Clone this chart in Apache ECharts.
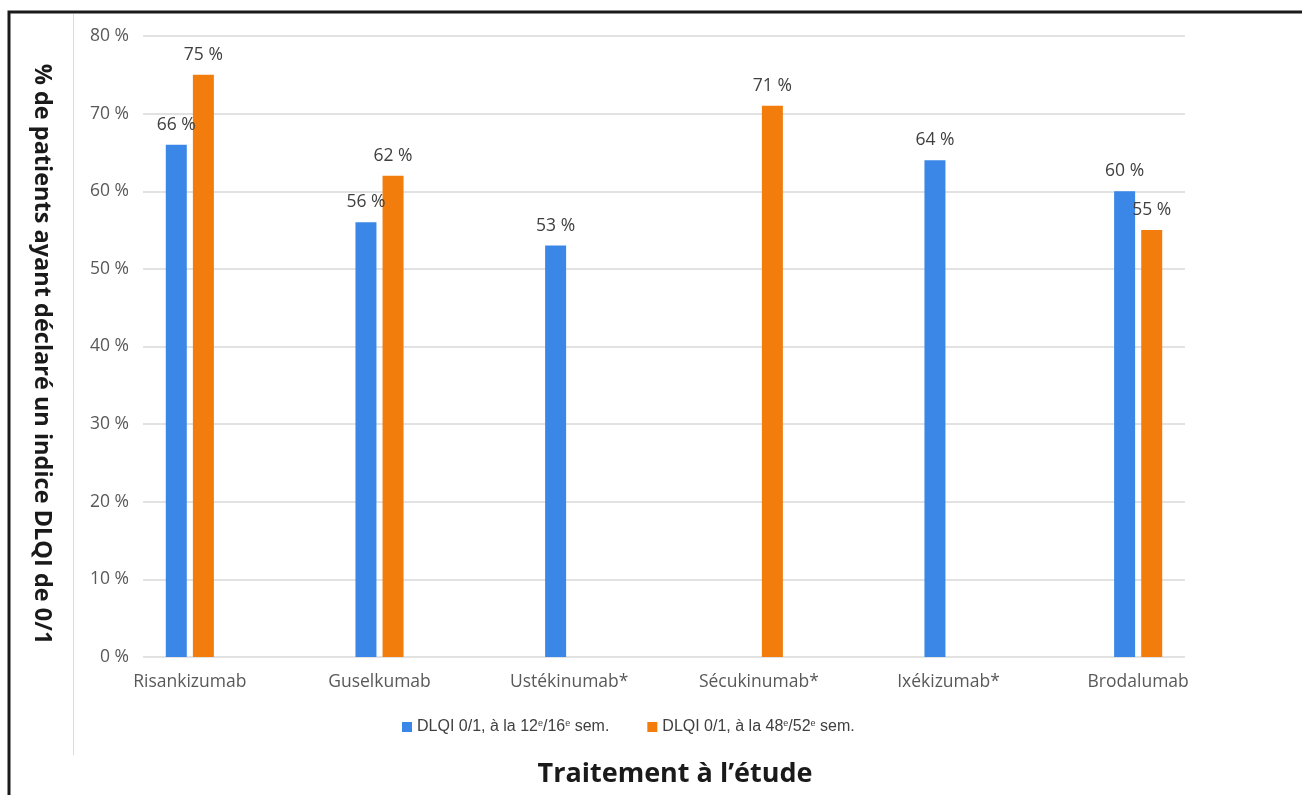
<!DOCTYPE html>
<html>
<head>
<meta charset="utf-8">
<style>
  html, body { margin: 0; padding: 0; background: #fff; }
  #chart { width: 1302px; height: 795px; }
</style>
<script src="https://cdn.jsdelivr.net/npm/echarts@6/dist/echarts.min.js"></script>
</head>
<body>
<div id="chart"></div>
<script>
// Treatments compared
const categories = ['Risankizumab', 'Guselkumab', 'Ustékinumab*', 'Sécukinumab*', 'Ixékizumab*', 'Brodalumab'];
// % of patients with DLQI 0/1 at week 12/16 (null = not reported)
const week12to16 = [66, 56, 53, null, 64, 60];
// % of patients with DLQI 0/1 at week 48/52
const week48to52 = [75, 62, null, 71, null, 55];
// Y-axis ticks (percent)
const yTicks = { min: 0, max: 80, step: 10 };

const seriesNames = ['DLQI 0/1, à la 12e/16e sem.', 'DLQI 0/1, à la 48e/52e sem.'];

const chart = echarts.init(document.getElementById('chart'), null, { renderer: 'canvas' });

const labelStyle = {
  show: true,
  position: 'top',
  distance: 11,
  formatter: p => p.value + ' %',
  fontFamily: 'Open Sans',
  fontSize: 17.5,
  color: '#404040'
};

chart.setOption({
  animation: false,
  backgroundColor: '#ffffff',
  textStyle: { fontFamily: 'Open Sans' },
  grid: [
    // value grid (gridlines + tick labels)
    { left: 143, right: 117, top: 36, bottom: 138 },
    // bar grid
    { left: 95, right: 69, top: 36, bottom: 138 }
  ],
  xAxis: [
    { gridIndex: 0, type: 'category', data: categories, show: false },
    {
      gridIndex: 1, type: 'category', data: categories,
      axisLine: { show: false }, axisTick: { show: false },
      axisLabel: { margin: 16, fontFamily: 'Open Sans', fontSize: 17.5, color: '#595959' }
    }
  ],
  yAxis: [
    {
      gridIndex: 0, type: 'value', min: yTicks.min, max: yTicks.max, interval: yTicks.step,
      axisLine: { show: false }, axisTick: { show: false },
      axisLabel: { margin: 14, formatter: '{value} %', fontFamily: 'Open Sans', fontSize: 17.5, color: '#595959' },
      splitLine: { lineStyle: { color: '#d9d9d9', width: 1.5 } }
    },
    {
      gridIndex: 1, type: 'value', min: yTicks.min, max: yTicks.max, interval: yTicks.step,
      show: false, splitLine: { show: false }
    }
  ],
  legend: {
    left: 397, top: 714,
    itemWidth: 10, itemHeight: 10, itemGap: 38,
    icon: 'rect',
    data: seriesNames,
    formatter: name => name.replace(/(\d+)e\//, '$1{sup|e}/').replace(/(\d+)e sem/, '$1{sup|e} sem'),
    textStyle: {
      fontFamily: 'Liberation Sans', fontSize: 16, color: '#404040',
      rich: { sup: { fontFamily: 'Liberation Sans', fontSize: 9, color: '#404040', verticalAlign: 'top', padding: [0, 0, 7, 0] } }
    }
  },
  series: [
    {
      name: seriesNames[0], type: 'bar', xAxisIndex: 1, yAxisIndex: 1,
      data: week12to16, barWidth: 21, barGap: '29%',
      itemStyle: { color: '#3A87E8' }, label: labelStyle
    },
    {
      name: seriesNames[1], type: 'bar', xAxisIndex: 1, yAxisIndex: 1,
      data: week48to52, barWidth: 21, barGap: '29%',
      itemStyle: { color: '#F27D0C' }, label: labelStyle
    }
  ],
  graphic: [
    // outer frame
    { type: 'rect', shape: { x: 9, y: 12, width: 1400, height: 900 }, style: { fill: 'none', stroke: '#1a1a1a', lineWidth: 3 }, silent: true },
    // inner left border of the chart area
    { type: 'line', shape: { x1: 73.5, y1: 14, x2: 73.5, y2: 755 }, style: { stroke: '#dcdcdc', lineWidth: 1 }, silent: true },
    // axis titles
    {
      type: 'text', x: 42, y: 354, rotation: -Math.PI / 2,
      style: { text: '% de patients ayant déclaré un indice DLQI de 0/1', fontFamily: 'Open Sans', fontWeight: 'bold', fontSize: 23.5, fill: '#1a1a1a', align: 'center', verticalAlign: 'middle' }
    },
    {
      type: 'text', x: 675, y: 774,
      style: { text: 'Traitement à l’étude', fontFamily: 'Open Sans', fontWeight: 'bold', fontSize: 27, fill: '#1a1a1a', align: 'center', verticalAlign: 'middle' }
    }
  ]
});
</script>
</body>
</html>
